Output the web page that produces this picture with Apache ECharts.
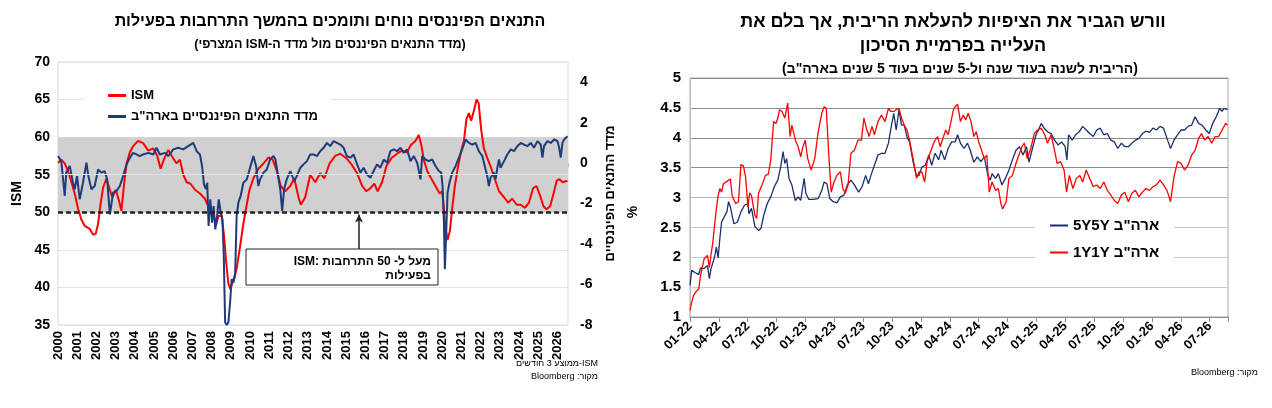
<!DOCTYPE html>
<html>
<head>
<meta charset="utf-8">
<script src="https://cdn.jsdelivr.net/npm/echarts@6.0.0/dist/echarts.min.js"></script>
<style>
  html, body { margin: 0; padding: 0; background: #fff; }
  #app { width: 1272px; height: 408px; }
</style>
</head>
<body>
<div id="app"></div>
<script>
;(function () {

    // left chart: ISM (3m avg) vs US financial conditions index
    var ismYears = [2000.00,2000.17,2000.35,2000.52,2000.70,2000.87,2001.04,2001.22,2001.39,2001.65,
        2001.83,2001.97,2002.09,2002.21,2002.35,2002.52,2002.70,2002.83,2003.01,2003.18,
        2003.30,2003.43,2003.57,2003.74,2003.91,2004.17,2004.43,2004.70,2004.96,2005.17,
        2005.34,2005.51,2005.74,2005.97,2006.17,2006.35,2006.52,2006.70,2006.90,2007.13,
        2007.39,2007.65,2007.88,2008.05,2008.23,2008.35,2008.52,2008.64,2008.75,2008.87,
        2008.97,2009.13,2009.30,2009.48,2009.65,2009.79,2009.97,2010.17,2010.43,2010.70,
        2010.96,2011.18,2011.39,2011.60,2011.83,2012.09,2012.30,2012.52,2012.64,2012.87,
        2013.13,2013.39,2013.65,2013.86,2014.14,2014.43,2014.70,2015.01,2015.30,2015.57,
        2015.83,2016.05,2016.26,2016.47,2016.64,2016.87,2017.10,2017.39,2017.65,2017.91,
        2018.17,2018.38,2018.61,2018.78,2018.91,2019.04,2019.22,2019.43,2019.65,2019.87,
        2020.00,2020.09,2020.17,2020.28,2020.40,2020.52,2020.66,2020.82,2020.99,2021.13,
        2021.27,2021.39,2021.51,2021.65,2021.79,2021.90,2022.03,2022.17,2022.35,2022.56,
        2022.73,2022.96,2023.22,2023.43,2023.65,2023.88,2024.09,2024.30,2024.52,2024.73,
        2024.91,2025.10,2025.27,2025.43,2025.62,2025.80,2025.96,2026.10,2026.27,2026.52];
    var ismValues = [56.6,57.0,56.5,55.5,54.0,52.5,50.5,49.0,48.2,47.8,
        47.0,47.2,48.5,51.0,53.3,54.5,53.0,52.0,53.0,51.5,
        50.2,53.5,56.5,58.0,58.8,59.5,59.2,58.2,58.5,57.5,
        55.8,57.0,58.3,57.3,56.5,57.0,55.0,54.0,53.8,53.0,
        52.5,51.8,50.5,50.0,48.3,49.5,49.6,47.0,43.5,40.5,
        39.8,41.0,42.5,45.5,48.5,50.5,53.0,54.5,55.8,56.5,
        57.3,57.0,55.5,53.5,52.8,53.5,54.5,52.0,51.0,52.0,
        55.0,54.0,55.2,54.5,56.5,57.5,57.8,57.2,56.3,55.2,
        53.5,52.8,53.2,53.8,52.8,54.0,56.2,57.3,57.8,58.2,
        58.0,59.0,59.5,60.3,59.0,57.0,55.5,54.5,53.5,52.5,
        52.8,50.5,48.0,46.3,47.5,50.5,53.5,56.0,58.2,59.5,
        62.5,63.2,62.2,63.5,65.0,64.5,61.0,58.5,57.2,55.8,
        54.5,52.8,52.0,51.3,51.8,51.0,51.0,50.6,51.3,53.2,
        53.5,52.2,50.8,50.4,50.8,52.5,54.2,54.4,54.0,54.2];

    var fciYears = [2000.00,2000.17,2000.35,2000.43,2000.61,2000.78,2000.87,2000.99,2001.13,2001.30,
        2001.48,2001.58,2001.74,2001.91,2002.09,2002.26,2002.43,2002.56,2002.70,2002.87,
        2003.04,2003.22,2003.39,2003.57,2003.74,2003.91,2004.09,2004.26,2004.43,2004.70,
        2004.96,2005.13,2005.30,2005.57,2005.74,2006.00,2006.26,2006.52,2006.78,2007.04,
        2007.22,2007.39,2007.50,2007.60,2007.70,2007.77,2007.84,2007.93,2008.02,2008.10,
        2008.19,2008.28,2008.37,2008.47,2008.56,2008.63,2008.70,2008.78,2008.87,2008.96,
        2009.04,2009.13,2009.22,2009.30,2009.39,2009.51,2009.65,2009.83,2010.00,2010.17,
        2010.31,2010.43,2010.52,2010.70,2010.87,2011.04,2011.22,2011.32,2011.43,2011.57,
        2011.67,2011.77,2011.91,2012.09,2012.19,2012.30,2012.43,2012.61,2012.78,2012.96,
        2013.13,2013.30,2013.48,2013.65,2013.83,2014.00,2014.17,2014.35,2014.52,2014.70,
        2014.87,2015.04,2015.22,2015.39,2015.57,2015.74,2015.91,2016.09,2016.26,2016.43,
        2016.61,2016.78,2016.96,2017.13,2017.30,2017.48,2017.65,2017.83,2018.00,2018.17,
        2018.35,2018.52,2018.70,2018.87,2018.96,2019.13,2019.30,2019.48,2019.65,2019.83,
        2019.95,2020.02,2020.09,2020.14,2020.21,2020.28,2020.38,2020.52,2020.70,2020.87,
        2021.04,2021.22,2021.39,2021.57,2021.74,2021.91,2022.09,2022.26,2022.35,2022.43,
        2022.52,2022.70,2022.78,2022.87,2022.96,2023.04,2023.22,2023.39,2023.57,2023.74,
        2023.91,2024.09,2024.26,2024.43,2024.61,2024.78,2024.96,2025.13,2025.22,2025.30,
        2025.48,2025.65,2025.83,2026.00,2026.09,2026.17,2026.26,2026.35,2026.52];
    var fciValues = [0.35,0.10,-1.62,-0.47,-0.14,-0.97,-1.29,-0.64,-1.79,-0.97,
        0.02,-0.64,-1.29,-1.13,-0.31,-0.47,-0.39,-0.80,-2.53,-1.46,
        -1.38,-1.13,-0.64,-0.06,0.27,0.51,0.43,0.35,0.43,0.51,
        0.43,0.76,0.43,0.51,0.35,0.68,0.76,0.68,0.84,1.00,
        0.59,0.43,-0.14,-1.05,-1.29,-0.97,-3.10,-1.79,-2.94,-2.12,
        -3.27,-2.61,-1.79,-2.45,-2.77,-4.58,-7.87,-8.00,-7.87,-6.88,
        -5.73,-5.90,-5.57,-2.61,-1.95,-1.62,-0.97,-0.80,-0.23,0.35,
        -0.14,-1.13,-0.80,-0.47,-0.31,0.18,0.35,0.18,-0.47,-1.29,
        -2.36,-1.29,-0.80,-0.39,-0.31,-0.88,-0.64,-0.23,-0.06,0.10,
        0.43,0.43,0.35,0.59,0.76,1.00,0.84,1.09,1.00,0.92,
        0.76,0.35,0.27,0.43,-0.06,-0.47,-0.23,-0.56,-0.72,-0.39,
        -0.06,-0.23,0.18,0.02,0.59,0.68,0.59,0.76,0.51,0.68,
        0.10,0.35,0.02,-0.80,0.35,0.18,0.10,0.18,-0.14,-0.39,
        -0.47,-1.13,-2.94,-5.24,-3.43,-1.46,-0.97,-0.47,-0.14,0.27,
        0.68,1.17,1.00,0.92,1.00,0.59,0.35,-0.31,-0.64,-1.13,
        -0.72,-0.47,-0.80,-0.23,0.18,-0.23,0.10,0.43,0.68,0.59,
        0.84,1.00,0.92,0.84,1.00,0.76,1.09,0.92,0.27,0.84,
        1.09,1.00,1.17,1.09,0.76,0.27,1.00,1.17,1.33];

    // right chart: months after Jan 2022, forward rates in %
    var f5y5yMonths = [0,0.18,0.55,0.91,1.09,1.46,1.82,2.01,2.19,2.55,
        2.74,2.92,3.10,3.28,3.47,3.83,4.01,4.20,4.56,4.93,
        5.29,5.66,6.02,6.13,6.39,6.75,7.12,7.37,7.66,8.03,
        8.39,8.76,9.12,9.42,9.67,9.85,10.04,10.29,10.58,10.95,
        11.24,11.50,11.86,12.04,12.34,12.77,13.32,13.69,13.94,14.23,
        14.53,14.89,15.26,15.62,15.99,16.35,16.72,17.08,17.52,17.88,
        18.25,18.54,18.80,19.16,19.53,19.89,20.26,20.62,20.88,21.17,
        21.42,21.72,21.97,22.26,22.55,22.81,23.18,23.54,23.80,24.09,
        24.45,24.82,25.11,25.47,25.84,26.09,26.46,26.82,27.19,27.55,
        27.81,28.10,28.47,28.83,29.12,29.49,29.85,30.22,30.58,30.95,
        31.20,31.39,31.75,32.04,32.41,32.77,33.14,33.50,33.87,34.23,
        34.60,34.96,35.22,35.58,35.95,36.20,36.50,36.79,37.15,37.52,
        37.88,38.25,38.61,38.98,39.16,39.34,39.71,40.07,40.44,40.80,
        41.17,41.53,41.90,42.26,42.63,42.99,43.36,43.72,44.09,44.45,
        44.82,45.18,45.55,45.91,46.28,46.64,47.01,47.37,47.74,48.10,
        48.47,48.83,49.20,49.56,49.93,50.29,50.66,51.02,51.39,51.75,
        52.12,52.48,52.85,53.21,53.58,53.94,54.31,54.67,55.04,55.29,
        55.47,55.84];
    var f5y5yValues = [1.53,1.78,1.74,1.71,1.82,1.81,1.86,1.64,1.81,2.00,
        2.17,1.99,2.31,2.59,2.62,2.76,2.93,2.84,2.56,2.59,
        2.76,2.87,2.90,2.73,2.82,2.51,2.45,2.48,2.70,2.90,
        3.01,3.18,3.29,3.51,3.77,3.57,3.65,3.32,3.21,2.95,
        3.01,2.95,3.32,3.07,2.97,2.97,2.98,3.12,3.26,3.23,
        2.98,2.93,2.91,3.01,3.04,3.21,3.29,3.21,3.09,3.18,
        3.37,3.23,3.37,3.54,3.71,3.74,3.74,3.91,4.16,4.41,
        4.13,4.47,4.21,4.21,4.01,3.93,3.60,3.35,3.37,3.51,
        3.54,3.71,3.54,3.74,3.63,3.79,3.63,3.82,3.93,3.93,
        4.05,3.91,3.82,3.91,3.79,3.59,3.68,3.60,3.68,3.37,
        3.29,3.40,3.32,3.40,3.21,3.32,3.46,3.63,3.79,3.85,
        3.71,3.85,3.59,3.82,4.05,4.13,4.24,4.16,4.10,4.07,
        3.96,3.88,3.93,3.85,3.63,4.05,3.96,4.05,4.10,4.19,
        4.13,4.07,4.02,4.13,4.16,4.05,4.07,3.96,3.93,3.82,
        3.91,3.85,3.85,3.91,3.96,3.99,4.07,4.11,4.09,4.16,
        4.13,4.19,4.16,3.99,3.82,3.96,4.05,4.13,4.13,4.19,
        4.21,4.35,4.24,4.21,4.13,4.07,4.24,4.35,4.49,4.44,
        4.49,4.47];

    var f1y1yMonths = [0,0.18,0.36,0.66,0.91,1.09,1.28,1.46,1.64,1.82,
        2.01,2.19,2.37,2.55,2.74,2.92,3.10,3.28,3.47,3.83,
        4.20,4.38,4.74,5.04,5.29,5.55,5.77,6.02,6.20,6.39,
        6.75,6.93,7.12,7.48,7.85,8.14,8.39,8.69,8.94,9.12,
        9.31,9.56,9.85,10.15,10.40,10.58,10.95,11.24,11.50,11.68,
        11.97,12.23,12.59,12.96,13.32,13.69,13.94,14.16,14.42,14.67,
        14.96,15.26,15.62,15.88,16.13,16.42,16.72,17.08,17.45,17.81,
        18.07,18.32,18.61,18.91,19.16,19.53,19.89,20.26,20.62,20.88,
        21.17,21.42,21.72,21.97,22.26,22.55,22.81,23.18,23.54,23.80,
        24.09,24.38,24.64,25.00,25.36,25.73,25.99,26.28,26.57,26.82,
        27.08,27.37,27.55,27.81,28.10,28.39,28.65,28.91,29.20,29.49,
        29.74,30.00,30.29,30.58,30.84,31.09,31.39,31.75,32.04,32.30,
        32.48,32.85,33.14,33.50,33.87,34.23,34.49,34.74,35.04,35.40,
        35.77,36.13,36.50,36.86,37.15,37.52,37.88,38.14,38.50,38.87,
        39.12,39.42,39.78,40.15,40.51,40.80,41.17,41.53,41.90,42.26,
        42.63,42.99,43.36,43.72,44.09,44.45,44.82,45.18,45.55,45.91,
        46.28,46.64,47.01,47.37,47.74,48.10,48.47,48.83,49.20,49.56,
        49.93,50.29,50.66,51.02,51.39,51.75,52.12,52.48,52.85,53.14,
        53.47,53.83,54.20,54.56,54.93,55.29,55.66,55.84];
    var f1y1yValues = [1.11,1.25,1.36,1.43,1.47,1.69,1.83,1.97,1.94,2.03,
        1.83,2.05,2.25,2.53,2.81,3.03,3.15,3.09,3.23,3.27,
        3.31,3.03,2.90,2.93,3.55,3.53,3.35,2.84,3.08,3.03,
        2.70,2.65,3.07,3.21,3.37,3.39,3.63,4.27,4.24,4.33,
        4.47,4.44,4.33,4.58,4.02,4.21,3.96,3.85,3.68,3.82,
        3.96,3.65,3.46,3.65,4.10,4.41,4.52,4.49,3.71,3.09,
        3.26,3.37,3.43,3.15,3.07,3.21,3.74,3.79,3.96,3.96,
        4.33,4.16,4.02,4.19,4.05,4.27,4.38,4.27,4.49,4.44,
        4.44,4.47,4.49,4.33,4.21,4.13,3.96,3.65,3.32,3.43,
        3.43,3.26,3.60,3.77,3.93,4.02,3.85,3.99,4.13,4.05,
        4.24,4.47,4.52,4.56,4.27,4.38,4.30,4.41,4.27,4.02,
        4.10,3.93,3.79,3.65,3.71,3.09,3.26,3.12,3.15,2.90,
        2.81,2.93,3.32,3.37,3.57,3.74,3.85,3.91,3.65,3.82,
        4.07,4.13,4.16,4.05,3.91,4.05,3.79,3.57,3.60,3.46,
        3.09,3.37,3.15,3.32,3.37,3.26,3.46,3.32,3.18,3.21,
        3.15,3.26,3.12,3.04,2.95,2.90,3.04,3.09,2.93,3.07,
        3.12,3.01,3.09,3.15,3.12,3.18,3.21,3.29,3.21,3.12,
        2.93,3.35,3.60,3.57,3.46,3.54,3.71,3.79,3.99,4.07,
        3.96,4.02,3.91,4.02,4.02,4.13,4.24,4.21];

    var ismName = 'ISM';
    var fciName = 'מדד התנאים הפיננסיים בארה"ב';
    var f5y5yName = '5Y5Y ארה"ב';
    var f1y1yName = '1Y1Y ארה"ב';

    var FONT = '"Liberation Sans", Arial, sans-serif';

    // wrap text in a right-to-left embedding so canvas lays it out like Hebrew
    function rtl(s) {
        return '\u202B' + s + '\u202C';
    }

    function zip(xs, ys) {
        var out = [];
        for (var i = 0; i < xs.length; i++) {
            out.push([xs[i], ys[i]]);
        }
        return out;
    }

    function monthLabel(v) {
        if (Math.abs(v / 3 - Math.round(v / 3)) > 1e-6) return '';
        var m = Math.round(v);
        var mm = m % 12 + 1;
        var yy = 22 + Math.floor(m / 12);
        return (mm < 10 ? '0' : '') + mm + '-' + yy;
    }

    function boldLabel(size) {
        return {color: '#000', fontSize: size, fontWeight: 'bold', fontFamily: FONT};
    }

    function text(x, y, s, size, weight, align, extra) {
        var el = {
            type: 'text', x: x, y: y, z: 30, silent: true,
            style: {
                text: s, fill: '#000', fontSize: size, fontWeight: weight,
                fontFamily: FONT, align: align, verticalAlign: 'middle'
            }
        };
        if (extra) {
            for (var k in extra) el[k] = extra[k];
        }
        return el;
    }

    var option = {
        animation: false,
        backgroundColor: '#fff',
        grid: [
            {left: 58, top: 62, width: 510, height: 263, show: true, borderColor: '#d9d9d9', borderWidth: 1},
            {left: 690, top: 78, width: 538, height: 239, show: true, borderColor: '#a6a6a6', borderWidth: 1}
        ],
        legend: [
            {
                data: [ismName, fciName], orient: 'vertical', left: 84, top: 86,
                itemGap: 8, itemWidth: 18, itemHeight: 3, icon: 'rect',
                backgroundColor: '#fff', padding: [3, 13, 3, 24], selectedMode: false,
                textStyle: boldLabel(13)
            },
            {
                data: [f5y5yName, f1y1yName], orient: 'vertical', left: 1035, top: 213,
                itemGap: 12, itemWidth: 18, itemHeight: 2, icon: 'rect',
                backgroundColor: '#fff', padding: [5, 15, 5, 15], selectedMode: false,
                textStyle: boldLabel(15)
            }
        ],
        xAxis: [
            {
                gridIndex: 0, type: 'value', min: 2000, max: 2026.55, interval: 1,
                axisLine: {show: true, lineStyle: {color: '#bfbfbf'}},
                axisTick: {show: true, length: 4, lineStyle: {color: '#bfbfbf'}},
                splitLine: {show: false},
                axisLabel: Object.assign(boldLabel(13), {
                    rotate: 90, margin: 6,
                    formatter: function (v) {
                        return Math.abs(v - Math.round(v)) < 1e-6 ? String(Math.round(v)) : '';
                    }
                })
            },
            {
                gridIndex: 1, type: 'value', min: 0, max: 55.9, interval: 3,
                axisLine: {show: true, lineStyle: {color: '#8c8c8c'}},
                axisTick: {show: true, length: 5, lineStyle: {color: '#8c8c8c'}},
                splitLine: {show: false},
                axisLabel: Object.assign(boldLabel(13), {rotate: 45, margin: 7, formatter: monthLabel})
            }
        ],
        yAxis: [
            {
                gridIndex: 0, type: 'value', position: 'left', min: 35, max: 70, interval: 5,
                name: 'ISM', nameLocation: 'middle', nameGap: 34, nameRotate: 90,
                nameTextStyle: boldLabel(14),
                axisLine: {show: false}, axisTick: {show: false},
                axisLabel: Object.assign(boldLabel(14), {margin: 8}),
                splitLine: {lineStyle: {color: '#e2e2e2'}}
            },
            {
                gridIndex: 0, type: 'value', position: 'right', min: -8, max: 5, interval: 2,
                name: 'מדד התנאים הפיננסיים', nameLocation: 'middle', nameGap: 36, nameRotate: 90,
                nameTextStyle: boldLabel(13),
                axisLine: {show: false}, axisTick: {show: false},
                axisLabel: Object.assign(boldLabel(14), {
                    margin: 12,
                    formatter: function (v) { return v > 4.5 ? '' : String(v); }
                }),
                splitLine: {show: false}
            },
            {
                gridIndex: 1, type: 'value', min: 1, max: 5, interval: 0.5,
                axisLine: {show: true, lineStyle: {color: '#bfbfbf'}}, axisTick: {show: false},
                axisLabel: Object.assign(boldLabel(15), {margin: 9}),
                splitLine: {lineStyle: {
                    color: ['#bdbdbd', '#c9c9c9', '#c9c9c9', '#c9c9c9', '#b5b5b5', '#8c8c8c', '#8c8c8c', '#8c8c8c', '#8c8c8c']
                }}
            }
        ],
        series: [
            {
                name: ismName, type: 'line', xAxisIndex: 0, yAxisIndex: 0,
                data: zip(ismYears, ismValues), symbol: 'none', z: 3,
                lineStyle: {color: '#ff0000', width: 2}, itemStyle: {color: '#ff0000'},
                markArea: {
                    silent: true, itemStyle: {color: '#d0d0d0'},
                    data: [[{yAxis: 60}, {yAxis: 50}]]
                },
                markLine: {
                    silent: true, symbol: 'none', label: {show: false},
                    data: [
                        {yAxis: 55, lineStyle: {color: '#e4e4e4', width: 1, type: 'solid'}},
                        {yAxis: 50, lineStyle: {color: '#222', width: 2.5, type: [5, 3]}},
                        [
                            {coord: [2015.67, 45.1], symbol: 'none', lineStyle: {color: '#222', width: 1.5, type: 'solid'}},
                            {coord: [2015.67, 49.7], symbol: 'arrow', symbolSize: [6, 8]}
                        ]
                    ]
                }
            },
            {
                name: fciName, type: 'line', xAxisIndex: 0, yAxisIndex: 1,
                data: zip(fciYears, fciValues), symbol: 'none', z: 4,
                lineStyle: {color: '#1f3b7c', width: 2}, itemStyle: {color: '#1f3b7c'}
            },
            {
                name: f5y5yName, type: 'line', xAxisIndex: 1, yAxisIndex: 2,
                data: zip(f5y5yMonths, f5y5yValues), symbol: 'none', z: 3,
                lineStyle: {color: '#1c2f6b', width: 1.3}, itemStyle: {color: '#1c2f6b'}
            },
            {
                name: f1y1yName, type: 'line', xAxisIndex: 1, yAxisIndex: 2,
                data: zip(f1y1yMonths, f1y1yValues), symbol: 'none', z: 4,
                lineStyle: {color: '#ff0000', width: 1.3}, itemStyle: {color: '#ff0000'}
            }
        ],
        graphic: [
            text(330, 22, rtl('התנאים הפיננסים נוחים ותומכים בהמשך התרחבות בפעילות'), 16, 'bold', 'center'),
            text(330, 45, rtl('(מדד התנאים הפיננסים מול מדד ה-ISM המצרפי)'), 12.5, 'bold', 'center'),
            text(953, 22, rtl('וורש הגביר את הציפיות להעלאת הריבית, אך בלם את'), 18, 'bold', 'center'),
            text(953, 46, rtl('העלייה בפרמיית הסיכון'), 18, 'bold', 'center'),
            text(960, 69, rtl('(הריבית לשנה בעוד שנה ול-5 שנים בעוד 5 שנים בארה"ב)'), 14, 'bold', 'center'),
            text(633, 212, '%', 14, 'bold', 'center', {rotation: Math.PI / 2}),
            {
                type: 'rect', z: 20, silent: true,
                shape: {x: 246, y: 249, width: 192, height: 36},
                style: {fill: '#fff', stroke: '#222', lineWidth: 1}
            },
            text(431, 262, 'ISM: מעל ל- 50 התרחבות', 12, 'bold', 'right'),
            text(431, 276, 'בפעילות', 12, 'bold', 'right'),
            text(598, 364, rtl('ISM-ממוצע 3 חודשים'), 9, 'normal', 'right'),
            text(598, 377, rtl('מקור: Bloomberg'), 9, 'normal', 'right'),
            text(1258, 373, rtl('מקור: Bloomberg'), 9, 'normal', 'right')
        ]
    };

    var chart = echarts.init(document.getElementById('app'), null, {renderer: 'canvas'});
    chart.setOption(option);
})();
</script>
</body>
</html>
